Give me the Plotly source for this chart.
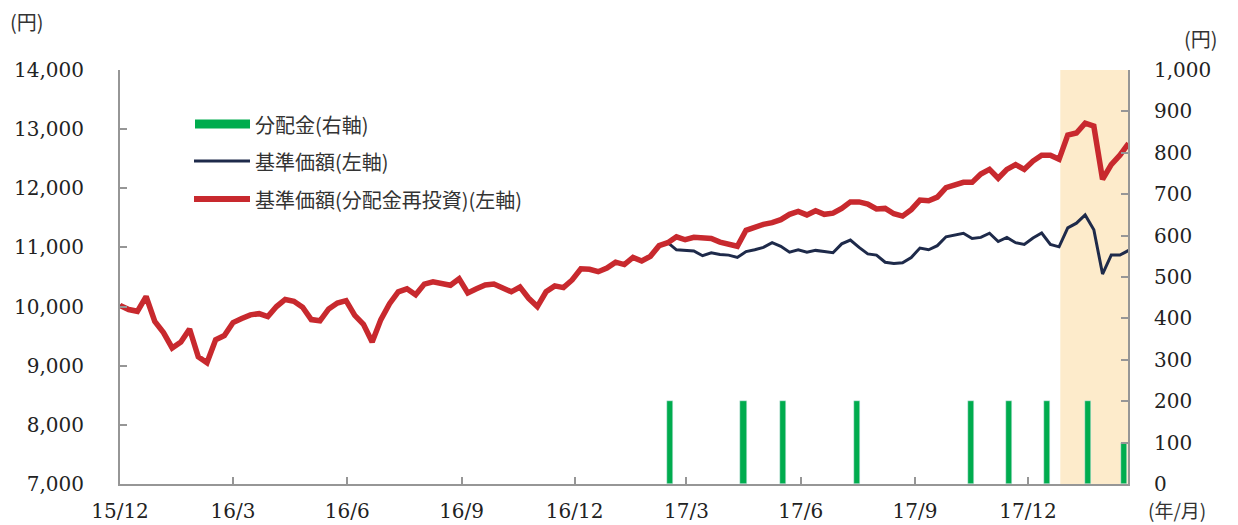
import pandas as pd
import plotly.graph_objects as go

# Weekly observation dates (Fridays)
dates = pd.date_range("2015-12-04", periods=117, freq="7D")

# 基準価額(分配金再投資) (left axis, yen)
nav_reinvested = [
    10020, 9950, 9920, 10170, 9750, 9560, 9300, 9400, 9620, 9150,
    9050, 9440, 9510, 9730, 9800, 9860, 9880, 9830, 10000, 10120,
    10090, 9990, 9780, 9760, 9960, 10060, 10100, 9850, 9700, 9400,
    9780, 10050, 10250, 10300, 10200, 10380, 10420, 10390, 10360, 10470,
    10230, 10300, 10365, 10380, 10320, 10250, 10330, 10140, 10000, 10250,
    10350, 10320, 10450, 10640, 10630, 10590, 10650, 10750, 10710, 10830,
    10770, 10850, 11030, 11080, 11180, 11130, 11170, 11170, 11150, 11090,
    11060, 11020, 11290, 11350, 11390, 11420, 11470, 11560, 11610, 11550,
    11620, 11560, 11580, 11660, 11770, 11770, 11734, 11650, 11660, 11570,
    11530, 11640, 11800, 11790, 11850, 12010, 12060, 12100, 12100, 12240,
    12320, 12170, 12320, 12400, 12320, 12460, 12560, 12560, 12490, 12900,
    12935, 13100, 13050, 12150, 12400, 12560, 12760,
]

# 基準価額 (left axis, yen) after the first distribution; identical before it
nav_after_first_dist = [
    10960, 10950, 10940, 10860, 10910, 10880, 10870, 10830, 10930, 10960,
    11000, 11080, 11020, 10920, 10960, 10920, 10950, 10930, 10910, 11060,
    11125, 11000, 10890, 10870, 10750, 10730, 10740, 10830, 10990, 10960,
    11030, 11180, 11210, 11240, 11150, 11170, 11240, 11100, 11170, 11080,
    11050, 11160, 11244, 11050, 11010, 11330, 11410, 11550, 11300, 10550,
    10870, 10870, 10950,
]
nav = nav_reinvested[:117 - len(nav_after_first_dist)] + nav_after_first_dist

# 分配金 (right axis, yen)
dist_dates = ["2017-02-19", "2017-04-19", "2017-05-21", "2017-07-19", "2017-10-19",
              "2017-11-19", "2017-12-19", "2018-01-21", "2018-02-19"]
dist_values = [200, 200, 200, 200, 200, 200, 200, 200, 100]

tick_dates = ["2015-12-04", "2016-03-04", "2016-06-04", "2016-09-04", "2016-12-04",
              "2017-03-04", "2017-06-04", "2017-09-04", "2017-12-04"]
tick_labels = ["15/12", "16/3", "16/6", "16/9", "16/12", "17/3", "17/6", "17/9", "17/12"]

RED = "#C8292E"
NAVY = "#1E2A4A"
GREEN = "#00AC4E"
AXIS = "#969696"
SERIF = "DejaVu Serif, Noto Sans CJK JP"
SANS = "Noto Sans CJK JP"

fig = go.Figure()
fig.add_trace(go.Bar(x=dist_dates, y=dist_values, yaxis="y2", marker_color=GREEN,
                     width=4.3e8, showlegend=False))
fig.add_trace(go.Scatter(x=dates, y=nav, mode="lines",
                         line=dict(color=NAVY, width=3), showlegend=False))
fig.add_trace(go.Scatter(x=dates, y=nav_reinvested, mode="lines",
                         line=dict(color=RED, width=5.5), showlegend=False))

fig.update_layout(
    width=1238, height=525,
    margin=dict(l=120, r=110, t=70, b=41),
    paper_bgcolor="white", plot_bgcolor="rgba(0,0,0,0)",
    font=dict(family=SERIF, size=20, color="#222"),
    bargap=0,
    xaxis=dict(
        type="date", range=["2015-12-04", "2018-02-22 12:00"],
        tickvals=tick_dates, ticktext=tick_labels,
        showgrid=False, zeroline=False, automargin=False,
        showline=True, linecolor=AXIS, linewidth=2,
        ticks="inside", ticklen=7, tickcolor=AXIS, tickwidth=1.5,
        ticklabelstandoff=8,
        tickfont=dict(family=SERIF, size=20, color="#222"),
    ),
    yaxis=dict(
        range=[7000, 14000], dtick=1000, tickformat=",",
        showgrid=False, zeroline=False, automargin=False,
        showline=True, linecolor=AXIS, linewidth=2,
        ticks="inside", ticklen=7, tickcolor=AXIS, tickwidth=1.5,
        ticklabelstandoff=30,
        tickfont=dict(family=SERIF, size=20, color="#222"),
    ),
    yaxis2=dict(
        range=[0, 1000], dtick=100, tickformat=",",
        overlaying="y", side="right",
        showgrid=False, zeroline=False, automargin=False,
        showline=True, linecolor=AXIS, linewidth=2,
        ticks="inside", ticklen=7, tickcolor=AXIS, tickwidth=1.5,
        ticklabelstandoff=20,
        tickfont=dict(family=SERIF, size=20, color="#222"),
    ),
    shapes=[
        dict(type="rect", xref="x", yref="paper", x0="2017-12-30", x1="2018-02-22 12:00",
             y0=0, y1=1, fillcolor="#FDEBCB", line=dict(width=0), layer="below"),
        # legend keys
        dict(type="line", xref="paper", yref="paper", x0=(195-120)/1008, x1=(250-120)/1008,
             y0=(484-124)/414, y1=(484-124)/414, line=dict(color=GREEN, width=9)),
        dict(type="line", xref="paper", yref="paper", x0=(194-120)/1008, x1=(250-120)/1008,
             y0=(484-161)/414, y1=(484-161)/414, line=dict(color=NAVY, width=3)),
        dict(type="line", xref="paper", yref="paper", x0=(194-120)/1008, x1=(250-120)/1008,
             y0=(484-199)/414, y1=(484-199)/414, line=dict(color=RED, width=6)),
    ],
)

def px_ann(text, x, y, xanchor="left", size=20, family=SANS):
    fig.add_annotation(text=text, xref="paper", yref="paper",
                       x=(x - 120) / 1008, y=(484 - y) / 414,
                       xanchor=xanchor, yanchor="middle", showarrow=False,
                       font=dict(family=family, size=size, color="#333"))

px_ann("分配金(右軸)", 253, 124)
px_ann("基準価額(左軸)", 253, 161)
px_ann("基準価額(分配金再投資)(左軸)", 253, 199)
px_ann("(円)", 8, 22, size=20)
px_ann("(円)", 1182, 38, size=20)
px_ann("(年/月)", 1146, 509, size=19)

fig.write_html("out.html")
